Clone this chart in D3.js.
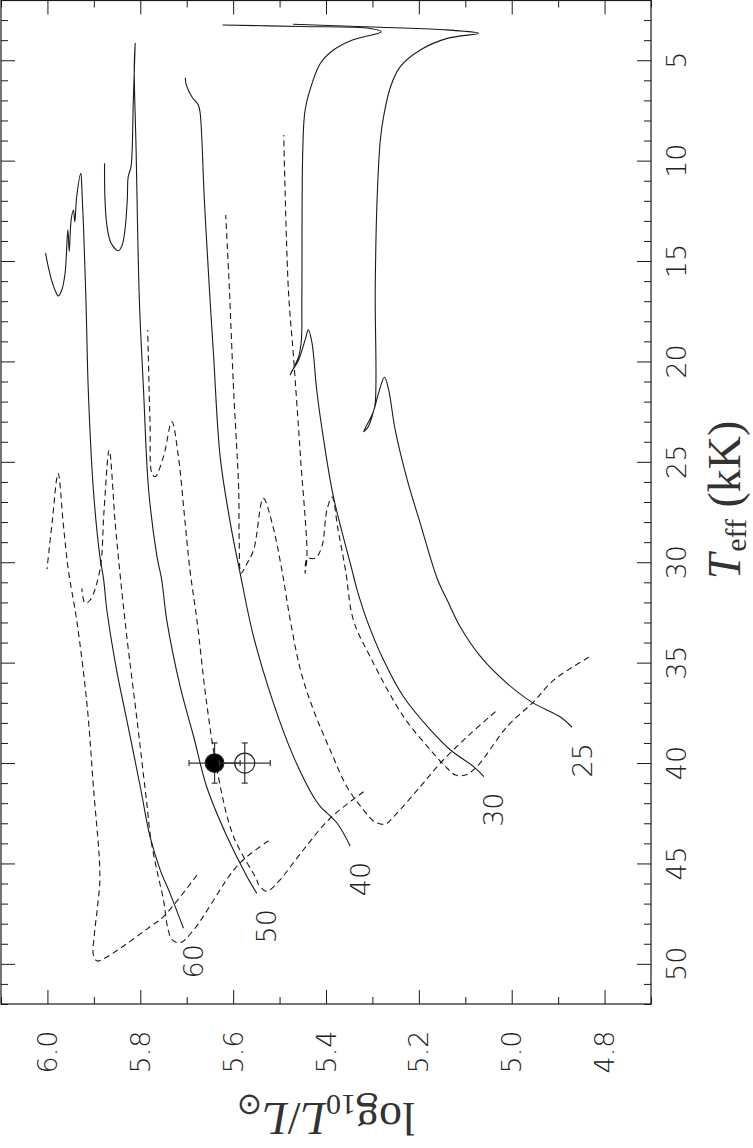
<!DOCTYPE html>
<html>
<head>
<meta charset="utf-8">
<script src="https://cdn.jsdelivr.net/npm/d3@7"></script>
<style>
  body { margin: 0; background: #fff; }
  svg { display: block; }
  .num { font-family: 'DejaVu Sans', sans-serif; font-weight: 200; font-size: 27px; fill: #222; }
  .title { font-family: 'Liberation Serif', serif; fill: #333; }
</style>
</head>
<body>
<div id="chart"></div>
<script>
// evolutionary tracks, points are [Teff (kK), log L/Lsun]
const solid60 = [[14.61,6.004],[15.20,5.999],[16.04,5.990],[16.59,5.981],[16.74,5.977],[16.44,5.969],[15.61,5.962],[13.45,5.956],[14.53,5.953],[12.96,5.949],[12.46,5.944],[13.04,5.941],[11.80,5.937],[10.63,5.928],[11.30,5.926],[13.45,5.922],[16.94,5.917],[21.42,5.912],[26.40,5.901],[29.72,5.887],[30.85,5.879],[32.38,5.872],[35.37,5.851],[37.86,5.829],[41.18,5.800],[43.67,5.779],[45.33,5.757],[46.49,5.736],[48.23,5.707]];
const solid50 = [[10.13,5.877],[11.96,5.876],[13.21,5.872],[14.10,5.863],[14.49,5.847],[14.20,5.839],[13.45,5.833],[11.96,5.828],[10.80,5.826],[10.30,5.820],[6.98,5.815],[4.16,5.811],[5.32,5.813],[9.47,5.809],[16.94,5.802],[21.42,5.793],[26.40,5.782],[29.72,5.764],[30.85,5.754],[32.88,5.743],[36.20,5.714],[38.69,5.685],[41.18,5.657],[43.67,5.613],[45.66,5.570],[46.49,5.549]];
const solid40 = [[5.87,5.703],[6.23,5.701],[6.82,5.689],[7.23,5.675],[7.64,5.671],[11.96,5.662],[16.44,5.651],[19.76,5.642],[24.74,5.628],[28.06,5.606],[30.54,5.585],[33.71,5.556],[37.03,5.513],[39.68,5.470],[41.68,5.427],[42.17,5.412],[43.0,5.376],[44.13,5.348]];
const solid30 = [[40.68,5.060],[40.18,5.082],[39.35,5.132],[38.35,5.175],[36.70,5.233],[34.87,5.276],[32.88,5.312],[31.38,5.333],[30.39,5.344],[26.74,5.384],[23.91,5.405],[21.42,5.420],[19.10,5.430],[18.43,5.438],[18.93,5.445],[19.93,5.459],[20.51,5.474],[20.68,5.477],[20.34,5.470],[19.76,5.459],[18.93,5.453],[16.94,5.452],[9.47,5.450],[7.48,5.445],[6.15,5.430],[5.15,5.412],[4.49,5.384],[3.99,5.343],[3.58,5.281],[3.42,5.305],[3.32,5.455],[3.245,5.623]];
const solid25 = [[38.22,4.870],[37.71,4.895],[36.98,4.956],[36.03,5.010],[34.70,5.067],[33.21,5.111],[31.88,5.139],[30.85,5.160],[28.06,5.197],[25.90,5.225],[23.41,5.251],[21.42,5.265],[20.79,5.274],[21.59,5.287],[22.50,5.298],[23.17,5.312],[23.50,5.319],[23.25,5.309],[22.67,5.300],[22.08,5.294],[16.44,5.294],[11.96,5.290],[8.97,5.283],[7.81,5.276],[6.32,5.261],[5.32,5.240],[4.49,5.197],[3.91,5.139],[3.66,5.071],[3.49,5.139],[3.36,5.283],[3.21,5.471]];

const dashed60 = [[45.58,5.678],[47.65,5.750],[48.15,5.779],[49.06,5.833],[49.71,5.876],[49.86,5.893],[49.56,5.901],[48.56,5.899],[47.32,5.893],[45.66,5.887],[41.18,5.901],[37.03,5.915],[32.88,5.937],[30.39,5.955],[28.06,5.966],[25.57,5.977],[28.06,5.990],[30.35,6.001]];
const dashed50 = [[43.87,5.524],[44.66,5.570],[45.33,5.599],[48.31,5.685],[48.95,5.714],[48.81,5.731],[48.31,5.740],[46.82,5.750],[45.58,5.762],[43.83,5.777],[42.01,5.786],[37.86,5.807],[33.71,5.829],[30.72,5.843],[28.06,5.854],[24.41,5.867],[27.40,5.878],[30.39,5.887],[31.88,5.908],[32.04,5.919],[31.30,5.926]];
const dashed40 = [[41.43,5.319],[42.75,5.391],[44.33,5.449],[45.82,5.499],[46.32,5.521],[46.37,5.531],[46.02,5.546],[45.82,5.549],[43.67,5.599],[40.68,5.632],[37.03,5.657],[32.88,5.678],[30.39,5.693],[27.65,5.705],[24.74,5.718],[23.0,5.732],[24.74,5.750],[25.74,5.768],[25.57,5.775],[23.08,5.779],[18.43,5.784]];
const dashed30 = [[37.44,5.035],[38.69,5.096],[40.01,5.154],[41.18,5.197],[42.59,5.251],[43.04,5.272],[42.94,5.294],[42.34,5.319],[41.18,5.355],[39.35,5.391],[37.36,5.427],[35.37,5.455],[32.88,5.477],[30.39,5.495],[28.06,5.516],[26.82,5.535],[29.39,5.556],[30.22,5.574],[30.55,5.583],[28.89,5.587],[26.40,5.588],[21.42,5.599],[16.44,5.608],[12.71,5.616]];
const dashed25 = [[34.73,4.834],[35.86,4.909],[36.95,4.953],[38.19,5.010],[40.18,5.075],[40.60,5.100],[40.60,5.121],[40.26,5.139],[39.35,5.175],[37.69,5.233],[34.70,5.305],[32.88,5.341],[30.39,5.358],[28.39,5.374],[26.75,5.387],[27.40,5.398],[29.23,5.409],[29.80,5.423],[29.84,5.441],[30.54,5.445],[29.72,5.441],[24.74,5.455],[19.76,5.470],[16.44,5.481],[8.72,5.491]];

const masses = [60, 50, 40, 30, 25];
const solidTracks = [solid60, solid50, solid40, solid30, solid25];
const dashedTracks = [dashed60, dashed50, dashed40, dashed30, dashed25];

// the star: two log L estimates at the same Teff
const starTeff = [40, 40];
const starLum = [5.64, 5.575];
const starFilled = [true, false];
const starErrT = 1.0;
const starErrL = 0.055;

const teffMajor = d3.range(5, 51, 5);
const teffMinor = d3.range(2, 53, 1).filter(v => v % 5 !== 0);
const lumMajor = [6.0, 5.8, 5.6, 5.4, 5.2, 5.0, 4.8];
const lumMinor = [6.1, 5.9, 5.7, 5.5, 5.3, 5.1, 4.9, 4.7];

const W = 753, H = 1148;
const box = { left: 1, right: 651, top: 0.5, bottom: 1004 };

const svg = d3.select('#chart').append('svg')
  .attr('width', W)
  .attr('height', H);

svg.append('rect').attr('width', W).attr('height', H).attr('fill', '#fff');

// page is the HR diagram turned 90 degrees: Teff runs down, log L runs left to right
const x = d3.scaleLinear().domain([6.1, 4.7]).range([box.left, box.right]);
const y = d3.scaleLinear().domain([2, 52]).range([0, box.bottom]);

const ink = '#1a1a1a';

const addTicks = (axis, tx, ty, values, size) => {
  svg.append('g')
    .attr('transform', `translate(${tx},${ty})`)
    .call(axis.tickValues(values).tickSize(size).tickFormat(''))
    .call(g => g.select('.domain').remove())
    .call(g => g.selectAll('line').attr('stroke', ink).attr('stroke-width', 1));
};

addTicks(d3.axisRight(y), box.left, 0, teffMajor, 14);
addTicks(d3.axisRight(y), box.left, 0, teffMinor, 7);
addTicks(d3.axisLeft(y), box.right, 0, teffMajor, 14);
addTicks(d3.axisLeft(y), box.right, 0, teffMinor, 7);
addTicks(d3.axisBottom(x), 0, box.top, lumMajor, 14);
addTicks(d3.axisBottom(x), 0, box.top, lumMinor, 7);
addTicks(d3.axisTop(x), 0, box.bottom, lumMajor, 14);
addTicks(d3.axisTop(x), 0, box.bottom, lumMinor, 7);

svg.append('rect')
  .attr('x', box.left)
  .attr('y', box.top)
  .attr('width', box.right - box.left)
  .attr('height', box.bottom - box.top)
  .attr('fill', 'none')
  .attr('stroke', ink)
  .attr('stroke-width', 1.2);

// tick labels
svg.selectAll('.teff-label')
  .data(teffMajor)
  .join('text')
    .attr('class', 'num')
    .attr('transform', d => `translate(676,${y(d)}) rotate(-90)`)
    .attr('text-anchor', 'middle')
    .attr('dominant-baseline', 'central')
    .text(d => d);

svg.selectAll('.lum-label')
  .data(lumMajor)
  .join('text')
    .attr('class', 'num')
    .attr('transform', d => `translate(${x(d)},1052) rotate(-90)`)
    .attr('text-anchor', 'middle')
    .attr('dominant-baseline', 'central')
    .text(d => d.toFixed(1));

// axis titles
const tTitle = svg.append('text')
  .attr('class', 'title')
  .attr('transform', 'translate(740,500) rotate(-90)')
  .attr('text-anchor', 'middle')
  .attr('font-size', 46);
tTitle.append('tspan').attr('font-style', 'italic').text('T');
tTitle.append('tspan').attr('font-size', 30).attr('dy', 6).attr('dx', 2).text('eff');
tTitle.append('tspan').attr('dy', -6).text(' (kK)');

const lTitle = svg.append('text')
  .attr('class', 'title')
  .attr('transform', `translate(${(box.left + box.right) / 2},1103) rotate(180)`)
  .attr('text-anchor', 'middle')
  .attr('font-size', 46);
lTitle.append('tspan').text('log');
lTitle.append('tspan').attr('font-size', 30).attr('dy', 8).text('10');
lTitle.append('tspan').attr('dy', -8).attr('font-style', 'italic').text('L');
lTitle.append('tspan').text('/');
lTitle.append('tspan').attr('font-style', 'italic').text('L');
lTitle.append('tspan').attr('font-size', 30).attr('dy', 8).text('\u2299');

// tracks
const line = d3.line()
  .x(d => x(d[1]))
  .y(d => y(d[0]))
  .curve(d3.curveCatmullRom.alpha(0.5));

const plot = svg.append('g');

plot.selectAll('.solid')
  .data(solidTracks)
  .join('path')
    .attr('d', line)
    .attr('fill', 'none')
    .attr('stroke', ink)
    .attr('stroke-width', 1.1);

plot.selectAll('.dashed')
  .data(dashedTracks)
  .join('path')
    .attr('d', line)
    .attr('fill', 'none')
    .attr('stroke', ink)
    .attr('stroke-width', 1.1)
    .attr('stroke-dasharray', '6,4');

// mass labels sit just past the hot end of each solid track
plot.selectAll('.mass')
  .data(masses)
  .join('text')
    .attr('class', 'num')
    .attr('transform', (m, i) => {
      const zams = d3.greatest(solidTracks[i], d => d[0]);
      return `translate(${x(zams[1]) + 10},${y(zams[0]) + 33}) rotate(-90)`;
    })
    .attr('text-anchor', 'middle')
    .attr('dominant-baseline', 'central')
    .text(m => m);

// the star with error bars
const stars = starTeff.map((t, i) => ({ t, l: starLum[i], filled: starFilled[i] }));
const cap = 3;
const sg = plot.selectAll('.star')
  .data(stars)
  .join('g')
    .attr('stroke', '#333')
    .attr('stroke-width', 1.2);

sg.append('line')
  .attr('x1', d => x(d.l - starErrL)).attr('x2', d => x(d.l + starErrL))
  .attr('y1', d => y(d.t)).attr('y2', d => y(d.t));
sg.append('line')
  .attr('x1', d => x(d.l)).attr('x2', d => x(d.l))
  .attr('y1', d => y(d.t - starErrT)).attr('y2', d => y(d.t + starErrT));
[-1, 1].forEach(s => {
  sg.append('line')
    .attr('x1', d => x(d.l + s * starErrL)).attr('x2', d => x(d.l + s * starErrL))
    .attr('y1', d => y(d.t) - cap).attr('y2', d => y(d.t) + cap);
  sg.append('line')
    .attr('x1', d => x(d.l) - cap).attr('x2', d => x(d.l) + cap)
    .attr('y1', d => y(d.t + s * starErrT)).attr('y2', d => y(d.t + s * starErrT));
});
sg.append('circle')
  .attr('cx', d => x(d.l))
  .attr('cy', d => y(d.t))
  .attr('r', d => d.filled ? 9.3 : 10)
  .attr('fill', d => d.filled ? '#000' : 'none')
  .attr('stroke', '#222');
</script>
</body>
</html>
